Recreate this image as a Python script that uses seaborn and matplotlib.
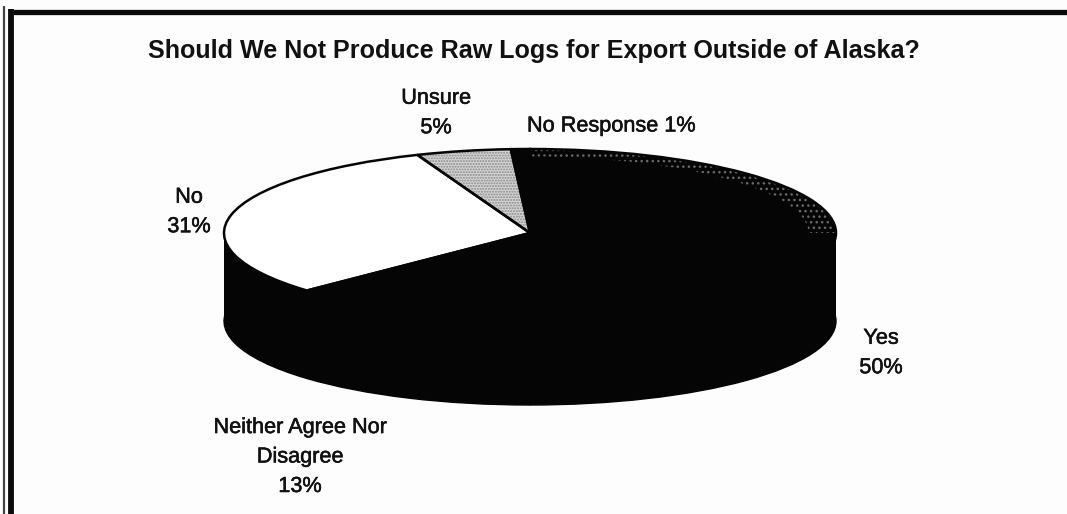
import numpy as np
import matplotlib
matplotlib.use("Agg")
import matplotlib.pyplot as plt
import matplotlib.patheffects as pe
from matplotlib.lines import Line2D
import seaborn as sns

# Data
title = "Should We Not Produce Raw Logs for Export Outside of Alaska?"
categories = ["Yes", "Neither Agree Nor\nDisagree", "No", "Unsure", "No Response"]
values = [50, 13, 31, 5, 1]
face_colors = ["#050505", "#050505", "#ffffff", "#d4d4d4", "#050505"]

W, H = 1067, 514
cx, cy, rx, ry, depth_px = 530, 233, 306, 84, 88

sns.set_theme(style="white")
plt.rcParams["font.family"] = ["Liberation Sans", "DejaVu Sans"]
plt.rcParams["hatch.linewidth"] = 1.0

fig = plt.figure(figsize=(W / 100, H / 100), dpi=100, facecolor="#fdfdfd")
ax = fig.add_axes([(cx - rx) / W, 1 - (cy + ry + depth_px + 4) / H,
                   2 * rx / W, (2 * ry + depth_px + 4) / H])
depth = depth_px / ry

# Extruded side of the pie
ax.pie(values, colors=["#050505"] * len(values), center=(0, -depth),
       startangle=90, counterclock=False, frame=False,
       wedgeprops=dict(linewidth=1, edgecolor="#050505"))
x_side = np.array([-1.0, 1.0])
ax.fill_between(x_side, -depth, 0, color="#050505", lw=0)

# Top face
wedges, _ = ax.pie(values, colors=face_colors, startangle=90, counterclock=False,
                   wedgeprops=dict(linewidth=0, edgecolor="#8a8a8a"))
wedges[3].set_hatch("......")

# Speckled light rim on the far right of the Yes slice
rim, _ = ax.pie([values[0] / 2, 100 - values[0] / 2], startangle=90, counterclock=False,
                colors=["none", "none"],
                wedgeprops=dict(width=0.09, linewidth=0, edgecolor="#6a6a6a"))
rim[0].set_hatch("...")
rim[1].set_visible(False)

# Slice outlines
ax.pie(values, startangle=90, counterclock=False, colors=["none"] * len(values),
       wedgeprops=dict(linewidth=1.8, edgecolor="#050505"))

ax.set_aspect("auto")
ax.set_xlim(-1, 1)
ax.set_ylim(-1 - depth - 4 / ry, 1)
ax.axis("off")


def put(px, py, s, **kw):
    t = fig.text(px / W, 1 - py / H, s, ha="center", va="center", color="#111111", **kw)
    return t


stroke = [pe.withStroke(linewidth=0.4, foreground="#111111")]
put(534, 51, title, fontsize=18.1, fontweight="bold")
label_style = dict(fontsize=15.6, linespacing=1.53, path_effects=stroke, multialignment="center")
put(436, 113, f"{categories[3]}\n{values[3]}%", **label_style)
put(611, 126, f"{categories[4]} {values[4]}%", **label_style)
put(189, 212, f"{categories[2]}\n{values[2]}%", **label_style)
put(881, 353, f"{categories[0]}\n{values[0]}%", **label_style)
put(300, 457, f"{categories[1]}\n{values[1]}%", **label_style)

# Page frame of the scanned figure
def frame(x0, y0, x1, y1, lw, c="#0a0a0a"):
    fig.add_artist(Line2D([x0 / W, x1 / W], [1 - y0 / H, 1 - y1 / H], lw=lw, color=c,
                          solid_capstyle="butt"))

frame(3.5, 6, 3.5, H, 1.6, "#444444")
frame(11, 9, 11, H, 4.2)
frame(9, 11.5, W, 11.5, 3.8)

fig.savefig("out.png", dpi=100, facecolor=fig.get_facecolor())
